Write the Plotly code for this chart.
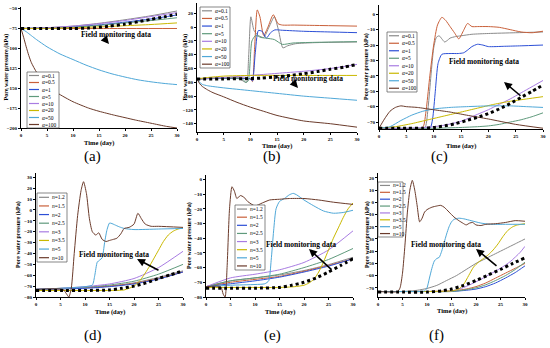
import plotly.graph_objects as go

W, H = 550, 348
FONT = "Liberation Serif"

# ---------------- colours / labels ----------------
COLORS = ["#8a8a8a", "#c9603a", "#2c4fd6", "#5f9a7c", "#a87ce2", "#c9b800", "#4fa8d8", "#6b3b2b"]
alpha_labels = ["0.1", "0.5", "1", "5", "10", "20", "50", "100"]
n_labels = ["1.2", "1.5", "2", "2.5", "3", "3.5", "5", "10"]
tick_x = [0, 5, 10, 15, 20, 25, 30]

# ---------------- panel (a) ----------------
a_series = {
    "0.1": ([0, 5, 10, 15, 20, 25, 30], [-75, -74, -72, -68.5, -64, -59, -53]),
    "0.5": ([0, 15, 30], [-75, -75, -75]),
    "1": ([0, 5, 10, 15, 20, 25, 30], [-75, -74.5, -73, -70.5, -67, -63, -58]),
    "5": ([0, 5, 10, 15, 20, 25, 30], [-75, -74.5, -73.5, -71, -68, -65, -61.5]),
    "10": ([0, 5, 10, 15, 20, 25, 30], [-75, -74, -72, -69, -65, -60, -55]),
    "20": ([0, 5, 10, 15, 20, 25, 30], [-75, -75, -74, -73, -71.5, -70, -68]),
    "50": ([0, 1, 2, 3, 5, 7.5, 10, 12.5, 15, 17.5, 20, 22.5, 25, 27.5, 30],
           [-75, -79, -84, -89, -98, -107, -114, -121, -127, -132, -136, -139.5, -142, -144, -145.5]),
    "100": ([0, 0.5, 1, 1.5, 2, 3, 4, 5, 7, 10, 13, 15, 18, 20, 22, 25, 28, 30],
            [-75, -86, -98, -109, -118, -130, -138, -145, -156, -167, -175, -179, -184, -187, -190, -194, -198, -200]),
}
a_field_t = [0, 5, 10, 13, 15, 17, 20, 22.5, 25, 27.5, 30]
a_field_v = [-75, -75, -75, -74.5, -73.5, -72, -69.5, -66.5, -63.5, -60.5, -57]
a_ticks = [-50, -75, -100, -125, -150, -175, -200]

# ---------------- panel (b) ----------------
b_series = {
    "0.1": ([0, 8, 8.8, 9.3, 9.7, 10.1, 10.7, 11.5, 12.5, 13.5, 14.5, 15.3, 16.1, 17, 18.5, 22, 30],
            [-75, -75, -79, -80, -40, 15, -5, -12, -15, 0, 15, -5, -30, -27, -24, -22.5, -21.5]),
    "0.5": ([0, 10, 10.4, 10.8, 11.3, 11.8, 12.5, 13.3, 14.3, 15.2, 16, 18, 22, 30],
            [-75, -75, -79, -30, 25, 15, -12, 0, 18, 5, 3, 3, 2.5, 1.5]),
    "1": ([0, 10, 10.4, 10.9, 11.5, 12.2, 13, 13.8, 14.6, 16, 20, 25, 30],
          [-75, -75, -78, -40, -5, -6, -16, -8, -4, -4.5, -6, -7, -8]),
    "5": ([0, 8.5, 9.1, 9.6, 10.3, 11, 12, 13, 14.5, 16, 18, 30],
          [-75, -75, -80, -78, -20, -12, -15, -16, -18, -25, -23, -21]),
    "10": ([0, 5, 10, 15, 20, 25, 30], [-75, -73, -70, -67, -64, -60, -54]),
    "20": ([0, 2, 5, 10, 20, 30], [-75, -73, -71, -70, -70, -70]),
    "50": ([0, 0.5, 1, 2, 5, 10, 15, 20, 25, 30], [-75, -80, -83, -85, -88, -92, -96, -100, -103, -106]),
    "100": ([0, 0.5, 1, 2, 3, 5, 7.5, 10, 12.5, 15, 20, 25, 30],
            [-75, -82, -86, -91, -95, -101, -109, -116, -122, -128, -136, -140, -145]),
}
b_field_t = [0, 5, 10, 12, 15, 17.5, 20, 22.5, 25, 27.5, 30]
b_field_v = [-75, -75, -74.5, -74, -72, -70, -67.5, -64.5, -61, -58, -54]
b_ticks = [20, 0, -20, -40, -60, -80, -100, -120, -140]

# ---------------- panel (c) ----------------
c_series = {
    "0.1": ([0, 8, 8.5, 9, 9.5, 10, 10.5, 11, 11.5, 12, 12.5, 13, 14, 15, 17, 20, 25, 30],
            [-74, -74, -73, -60, -40, -22, -15, -14, -16, -18, -17, -15.5, -14.5, -14, -13, -12.5, -12, -11.5]),
    "0.5": ([0, 7.8, 8.2, 8.7, 9.3, 10, 10.7, 11.5, 12.2, 13, 13.8, 14.6, 15.4, 16.2, 17, 18, 20, 22, 24, 26, 28, 30],
            [-74, -74, -72, -60, -40, -20, -7, -2, -4, -8, -12, -16, -11, -6, -8, -8, -8, -8.5, -10, -11.5, -12, -11]),
    "1": ([0, 9.3, 9.8, 10.3, 10.8, 11.5, 13, 14.5, 15.5, 16.3, 17, 18, 19, 20, 23, 26, 30],
          [-74, -74, -68, -50, -32, -26, -25.5, -25.5, -25, -23, -21, -19.5, -20, -21, -20.8, -20.5, -20]),
    "5": ([0, 10, 15, 18, 20, 22, 24, 26, 28, 30], [-74, -74, -73.5, -73, -72.5, -71.5, -70, -68.5, -66.5, -64]),
    "10": ([0, 5, 8, 10, 12, 15, 18, 20, 22, 24, 26, 28, 30],
           [-74, -74, -73.5, -73, -72, -69.5, -65, -62, -58.5, -55, -51, -47, -43]),
    "20": ([0, 3, 6, 9, 12, 15, 18, 21, 24, 27, 30], [-74, -73, -71, -68.5, -66, -63.5, -61, -58.5, -56.5, -55, -53.5]),
    "50": ([0, 2, 4, 6, 8, 10, 13, 16, 20, 24, 27, 30], [-74, -73, -69, -65.5, -63, -61.5, -60.5, -60, -59.5, -59.5, -60, -60.5]),
    "100": ([0, 1, 2, 3, 4, 5, 7, 10, 13, 16, 20, 25, 30],
            [-74, -68, -63, -60.5, -59.5, -60, -60.5, -62, -63.5, -65.5, -68, -71.5, -74]),
}
c_field_t = [0, 5, 8, 10, 12, 14, 16, 18, 20, 22, 24, 26, 28, 30]
c_field_v = [-74, -74, -74, -73.5, -72.5, -71, -69, -67, -64.5, -61.5, -58, -54, -50, -46]
c_ticks = [0, -10, -20, -30, -40, -50, -60, -70]

# ---------------- panel (d) ----------------
d_series = {
    "1.2": ([0, 5, 10, 15, 20, 25, 30], [-73, -72.5, -71.5, -70, -67, -62, -56]),
    "1.5": ([0, 5, 10, 15, 20, 25, 30], [-73, -72.5, -71.5, -70, -67.5, -63, -57]),
    "2": ([0, 5, 10, 15, 20, 25, 30], [-73, -72.5, -72, -70.5, -68, -63.5, -57]),
    "2.5": ([0, 5, 10, 15, 20, 25, 30], [-73, -72, -71, -69, -65.5, -59, -50]),
    "3": ([0, 5, 10, 15, 20, 25, 30], [-73, -72, -70.5, -68, -63, -53, -38]),
    "3.5": ([0, 10, 15, 18, 20, 21, 22, 23, 24, 25, 26, 27, 28, 29, 30],
            [-74, -74, -74, -73.5, -70, -66, -60, -53, -45, -37, -29, -23, -19.5, -17.5, -16.5]),
    "5": ([0, 5, 10, 11.5, 12, 12.5, 13, 13.5, 14, 14.5, 15, 15.5, 16, 17, 18, 20, 25, 30],
          [-73, -72, -70.5, -69, -60, -48, -46, -44, -30, -18, -12, -12.5, -13.5, -15.5, -17, -18, -17.5, -17]),
    "10": ([0, 5.5, 6.2, 6.7, 7.2, 7.8, 8.5, 9.2, 9.7, 10.3, 10.9, 11.5, 12.2, 12.8, 13.5, 14.3, 15, 15.8,
            16.5, 17.3, 18, 19, 20, 20.8, 21.5, 22.3, 23.5, 25, 30],
           [-73, -73, -77, -80, -72, -40, -5, 18, 26, 15, -8, -20, -23, -21, -27, -29, -28, -27,
            -26, -22, -17, -16, -13, -3, -8, -13, -15, -15, -16]),
}
d_field_t = [0, 5, 10, 15, 17.5, 20, 22.5, 25, 27.5, 30]
d_field_v = [-74, -74, -74, -73.5, -72, -70, -67, -63, -59.5, -56]
d_ticks = [30, 20, 10, 0, -10, -20, -30, -40, -50, -60, -70, -80]

# ---------------- panel (e) ----------------
e_series = {
    "1.2": ([0, 5, 10, 15, 20, 25, 30], [-73, -69, -67, -65, -62, -58, -53]),
    "1.5": ([0, 5, 10, 15, 20, 25, 30], [-73, -70, -68, -66, -62.5, -58.5, -54]),
    "2": ([0, 5, 10, 15, 20, 25, 30], [-73, -71, -69, -66.5, -63, -59, -54]),
    "2.5": ([0, 5, 10, 15, 20, 25, 30], [-73, -69, -67, -64.5, -60, -54.5, -47]),
    "3": ([0, 5, 10, 15, 20, 25, 30], [-73, -67, -64.5, -61.5, -56.5, -48, -35]),
    "3.5": ([0, 10, 15, 18, 20, 21, 22, 23, 24, 25, 26, 27, 28, 29, 30],
            [-73.5, -73.5, -73.5, -73, -72, -70.5, -68, -63, -56, -48, -40, -33, -26, -20, -16]),
    "5": ([0, 5, 10, 12, 12.8, 13.3, 13.8, 14.3, 15, 16, 17, 17.8, 18.5, 20, 22, 24, 26, 28, 30],
          [-73, -72, -71.5, -71, -69, -55, -35, -20, -15, -13, -10.5, -9.5, -10.5, -14, -18, -21.5, -23, -22.5, -21]),
    "10": ([0, 3, 3.5, 3.9, 4.3, 4.8, 5.3, 5.8, 6.3, 7, 7.7, 8.5, 10, 11.5, 13, 15, 17, 20, 23, 26, 30],
           [-73, -73, -78, -80, -60, -20, -5, -8, -13, -11, -12, -15, -18, -16, -14, -13.5, -13, -13, -14, -15.5, -17]),
}
e_field_t = [0, 5, 10, 15, 17.5, 20, 22.5, 25, 27.5, 30]
e_field_v = [-74, -74, -74, -73.5, -72, -70, -67, -63, -58.5, -54]
e_ticks = [0, -10, -20, -30, -40, -50, -60, -70, -80]

# ---------------- panel (f) ----------------
f_series = {
    "1.2": ([0, 5, 8, 10, 12, 14, 16, 18, 20, 22, 24, 26, 28, 30],
            [-73, -73, -72, -70.5, -68, -64, -60, -55, -50, -46, -42, -38, -34, -30]),
    "1.5": ([0, 10, 15, 18, 20, 22, 24, 26, 28, 30], [-73, -73, -72.5, -71, -69, -66, -62, -58, -54, -50]),
    "2": ([0, 10, 15, 18, 20, 22, 24, 26, 28, 30], [-73, -73, -73, -72, -71, -69, -66, -62, -57.5, -52]),
    "2.5": ([0, 10, 15, 18, 20, 22, 24, 26, 28, 30], [-73, -73, -73, -71.5, -70, -67.5, -64, -60, -55, -49]),
    "3": ([0, 10, 15, 17, 19, 21, 23, 25, 27, 29, 30], [-73, -73, -72.5, -70.5, -67, -63, -58.5, -54, -48.5, -41, -36]),
    "3.5": ([0, 10, 15, 16.5, 17.5, 18.5, 19.5, 20.5, 21.5, 22.5, 23.5, 24.5, 25.5, 26.5, 27.5, 28.5, 30],
            [-73, -73, -72.5, -71, -67, -60, -53, -49, -46, -43, -39, -34, -28, -23, -20, -18.5, -17.5]),
    "5": ([0, 5, 9.5, 10, 10.5, 11, 11.5, 12, 12.5, 13, 13.5, 14, 14.5, 15, 15.5, 16.5, 17.5, 19, 21, 23, 26, 30],
          [-73, -73, -72.5, -70, -62, -54, -48, -46, -45, -40, -33, -26, -20, -16, -14, -13, -13.5, -15, -17, -18, -18, -18]),
    "10": ([0, 4, 4.5, 5, 5.5, 6, 6.5, 7, 7.5, 8, 8.5, 9, 9.5, 10, 11, 12, 12.8, 13.5, 14.5, 15.5, 16.5, 17.3,
            18, 18.7, 19.3, 20, 21, 22, 24, 26, 28, 30],
           [-73, -73, -70, -58, -35, -8, 10, 18, 10, -3, -16, -13, -8, -6, -4, -3, -2.5, -4, -8, -12, -15, -17,
            -18.5, -17, -16.5, -18.5, -19, -18, -17.5, -16.5, -15, -15.5]),
}
f_field_t = [0, 5, 10, 13, 15, 17.5, 20, 22.5, 25, 27.5, 30]
f_field_v = [-73.5, -73.5, -73.5, -72.5, -71, -68, -64, -59.5, -55, -50, -45.5]
f_ticks = [20, 10, 0, -10, -20, -30, -40, -50, -60, -70]

# ---------------- layout geometry (pixels) ----------------
panels = [
    dict(s=a_series, ft=a_field_t, fv=a_field_v, yt=a_ticks, yr=[-200, -48], lab=alpha_labels, sym="α",
         box=(21, 177, 7, 128), leg=(27, 59, 72, 128), txt=(116, 34), head=(109, 44), tail=(103, 37),
         ytx=6, xty=143, name="(a)", nx=92, ny=156),
    dict(s=b_series, ft=b_field_t, fv=b_field_v, yt=b_ticks, yr=[-152, 35], lab=alpha_labels, sym="α",
         box=(197, 357, 3, 132), leg=(200, 230, 7, 68), txt=(308, 78), head=(298, 88), tail=(291, 80),
         ytx=185, xty=146.5, name="(b)", nx=272, ny=157),
    dict(s=c_series, ft=c_field_t, fv=c_field_v, yt=c_ticks, yr=[-74.5, 6], lab=alpha_labels, sym="α",
         box=(379, 543, 5, 129), leg=(387, 417, 32, 92), txt=(484, 61), head=(504, 82), tail=(522, 97),
         ytx=367, xty=146, name="(c)", nx=439, ny=157),
    dict(s=d_series, ft=d_field_t, fv=d_field_v, yt=d_ticks, yr=[-80, 34], lab=n_labels, sym="n",
         box=(36, 183, 173, 297), leg=(37, 67, 193, 262), txt=(114, 254), head=(137, 259), tail=(160, 271),
         ytx=18, xty=312, name="(d)", nx=93, ny=335),
    dict(s=e_series, ft=e_field_t, fv=e_field_v, yt=e_ticks, yr=[-80, 3], lab=n_labels, sym="n",
         box=(206, 353, 175, 297), leg=(235, 265, 205, 270), txt=(301, 244), head=(309, 249), tail=(333, 271),
         ytx=190, xty=312, name="(e)", nx=272, ny=335),
    dict(s=f_series, ft=f_field_t, fv=f_field_v, yt=f_ticks, yr=[-77.5, 24], lab=n_labels, sym="n",
         box=(378, 525, 173, 297), leg=(378, 403, 182, 237), txt=(446, 244), head=(476, 249), tail=(498, 267),
         ytx=367, xty=311, name="(f)", nx=436, ny=335),
]


def px(x):
    return x / W


def py(y):
    return 1 - y / H


fig = go.Figure()
layout = dict(width=W, height=H, autosize=False, margin=dict(l=0, r=0, t=0, b=0, autoexpand=False),
              paper_bgcolor="white", plot_bgcolor="rgba(0,0,0,0)", showlegend=False)
annotations = []
shapes = []


def note(text, x, y, size, xanchor="center", angle=0):
    annotations.append(dict(text=text, x=px(x), y=py(y), xref="paper", yref="paper", showarrow=False,
                            xanchor=xanchor, yanchor="middle", textangle=angle,
                            font=dict(family=FONT, size=size, color="black")))


for i, p in enumerate(panels, start=1):
    xa = "x" if i == 1 else f"x{i}"
    ya = "y" if i == 1 else f"y{i}"
    x0, x1, yt, yb = p["box"]
    for k, (name, (t, v)) in enumerate(p["s"].items()):
        fig.add_trace(go.Scatter(x=t, y=v, mode="lines", xaxis=xa, yaxis=ya,
                                 line=dict(color=COLORS[k], width=1, shape="spline", smoothing=0.6),
                                 name=f"{p['sym']}={name}", hoverinfo="skip"))
    fig.add_trace(go.Scatter(x=p["ft"], y=p["fv"], mode="lines", xaxis=xa, yaxis=ya,
                             line=dict(color="black", width=3, dash="dot", shape="spline", smoothing=0.6),
                             name="Field monitoring data", hoverinfo="skip"))
    axis_common = dict(showline=True, linecolor="black", linewidth=1, ticks="outside", ticklen=2,
                       tickwidth=0.8, tickcolor="black", showgrid=False, zeroline=False,
                       ticklabelstandoff=0,
                       tickfont=dict(family=FONT, size=5, color="black", weight="bold"))
    layout["xaxis" if i == 1 else f"xaxis{i}"] = dict(
        domain=[px(x0), px(x1)], anchor=ya, range=[0, 30], tickvals=tick_x, **axis_common)
    layout["yaxis" if i == 1 else f"yaxis{i}"] = dict(
        domain=[py(yb), py(yt)], anchor=xa, range=p["yr"], tickvals=p["yt"], **axis_common)

    note("<b>Pore water pressure (kPa)</b>", p["ytx"], (yt + yb) / 2, 6, angle=-90)
    note("<b>Time (day)</b>", (x0 + x1) / 2, p["xty"], 6.5)
    note(p["name"], p["nx"], p["ny"], 15)
    note("<b>Field monitoring data</b>", p["txt"][0], p["txt"][1], 7.5)
    hx, hy = p["head"]
    tx, ty = p["tail"]
    annotations.append(dict(text="", x=px(hx), y=py(hy), xref="paper", yref="paper", showarrow=True,
                            ax=tx - hx, ay=ty - hy, arrowhead=2, arrowsize=1, arrowwidth=1.6,
                            arrowcolor="black"))
    lx0, lx1, ly0, ly1 = p["leg"]
    shapes.append(dict(type="rect", xref="paper", yref="paper", x0=px(lx0), x1=px(lx1), y0=py(ly1), y1=py(ly0),
                       line=dict(color="#555555", width=0.7), fillcolor="white", layer="above"))
    n = len(p["lab"])
    rh = (ly1 - ly0) / n
    for k, lab in enumerate(p["lab"]):
        yy = ly0 + rh * (k + 0.5)
        shapes.append(dict(type="line", xref="paper", yref="paper", x0=px(lx0 + 2), x1=px(lx0 + 12),
                           y0=py(yy), y1=py(yy), line=dict(color=COLORS[k], width=1.2), layer="above"))
        note(f"<i>{p['sym']}</i>={lab}", lx0 + 12.5, yy, 5.5, xanchor="left")

layout["annotations"] = annotations
layout["shapes"] = shapes
fig.update_layout(**layout)

post = ("document.documentElement.style.margin='0';document.body.style.margin='0';"
        "document.body.style.padding='0';document.body.style.overflow='hidden';"
        "var gd=document.getElementById('{plot_id}');"
        "Plotly.relayout(gd,{width:550,height:348});")
fig.write_html("out.html", config={"responsive": False, "displayModeBar": False}, post_script=post)
